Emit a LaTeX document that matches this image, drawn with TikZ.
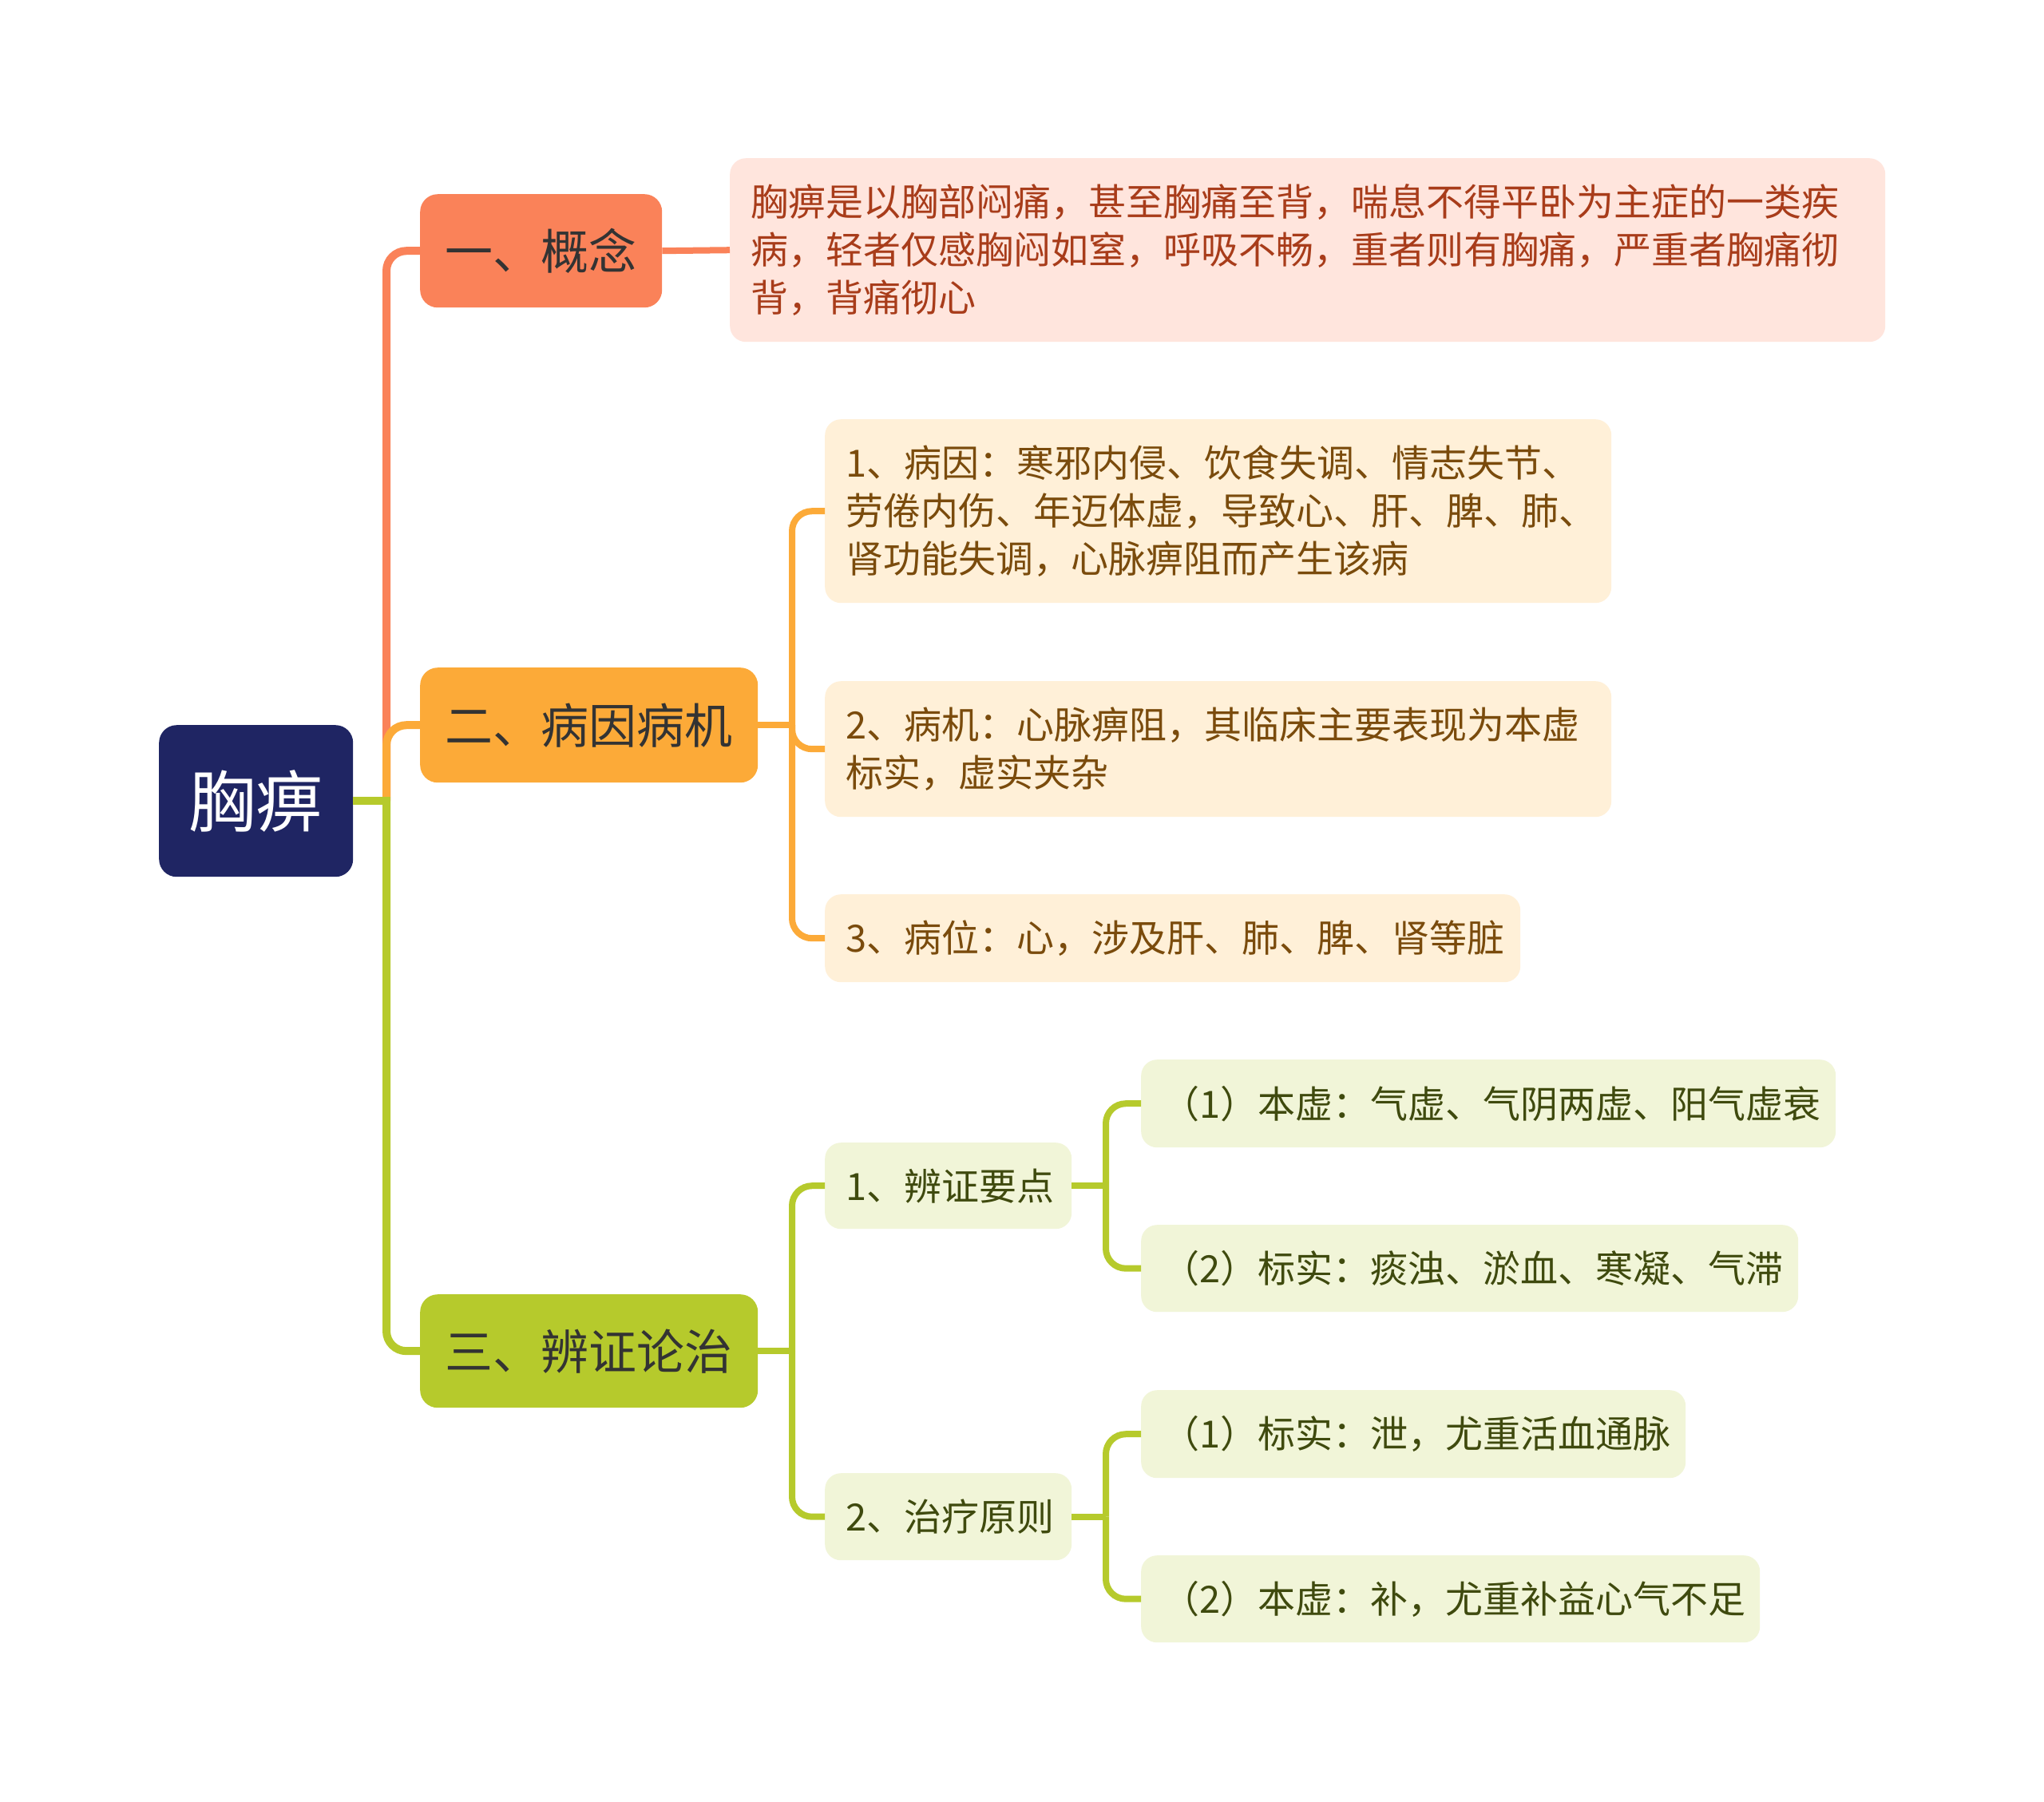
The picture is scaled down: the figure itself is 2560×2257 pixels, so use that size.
\documentclass[tikz,border=0pt]{standalone}
\usepackage{fontspec}
\newfontfamily\cjk{Noto Sans CJK SC}
\definecolor{rootc}{HTML}{1F2563}
\definecolor{coral}{HTML}{FA8259}
\definecolor{orng}{HTML}{FCAA38}
\definecolor{lime}{HTML}{B6CA2C}
\definecolor{coralL}{HTML}{FFE5DD}
\definecolor{orngL}{HTML}{FFF0D8}
\definecolor{limeL}{HTML}{F1F5D8}
\definecolor{coralT}{HTML}{A83C1A}
\definecolor{orngT}{HTML}{7A4B0C}
\definecolor{limeT}{HTML}{3F4A0E}
\definecolor{branchT}{HTML}{333333}
\tikzset{
  rootbox/.style={rounded corners=22pt, fill=rootc, text=white, anchor=north west,
    inner sep=0pt, align=center, font=\cjk\fontsize{84pt}{96pt}\selectfont},
  branchbox/.style={rounded corners=22pt, anchor=north west, inner sep=0pt,
    align=center, text=branchT, font=\cjk\fontsize{60pt}{72pt}\selectfont},
  leafbox/.style={rounded corners=20pt, anchor=north west, inner xsep=26pt,
    inner ysep=0pt, align=left, font=\cjk\fontsize{47pt}{60pt}\selectfont},
  leafC/.style={leafbox, fill=coralL, text=coralT},
  leafO/.style={leafbox, fill=orngL, text=orngT},
  leafG/.style={leafbox, fill=limeL, text=limeT},
  lnmain/.style={line width=10pt, rounded corners=25pt},
  lnsub/.style={line width=8pt, rounded corners=25pt},
}
\begin{document}
\begin{tikzpicture}[x=1pt,y=-1pt]
\useasboundingbox[fill=white] (0,0) rectangle (2560,2257);

% nodes
\node[rootbox, minimum width=243pt, minimum height=190pt] (root) at (199,908) {胸痹};

\node[branchbox, fill=coral, minimum width=303pt, minimum height=142pt] (b1) at (526,243) {一、概念};
\node[branchbox, fill=orng, minimum width=423pt, minimum height=144pt] (b2) at (526,836) {二、病因病机};
\node[branchbox, fill=lime, minimum width=423pt, minimum height=142pt] (b3) at (526,1621) {三、辨证论治};

\node[leafC, minimum width=1447pt, text width=1395pt, minimum height=230pt] (c1) at (914,198)
  {胸痹是以胸部闷痛，甚至胸痛至背，喘息不得平卧为主症的一类疾\\病，轻者仅感胸闷如窒，呼吸不畅，重者则有胸痛，严重者胸痛彻\\背，背痛彻心};

\node[leafO, minimum width=985pt, text width=933pt, minimum height=230pt] (l21) at (1033,525)
  {1、病因：寒邪内侵、饮食失调、情志失节、\\劳倦内伤、年迈体虚，导致心、肝、脾、肺、\\肾功能失调，心脉痹阻而产生该病};
\node[leafO, minimum width=985pt, text width=933pt, minimum height=170pt] (l22) at (1033,853)
  {2、病机：心脉痹阻，其临床主要表现为本虚\\标实，虚实夹杂};
\node[leafO, minimum width=871pt, text width=819pt, minimum height=110pt] (l23) at (1033,1120)
  {3、病位：心，涉及肝、肺、脾、肾等脏};

\node[leafG, minimum width=309pt, text width=257pt, minimum height=108pt] (l31) at (1033,1431)
  {1、辨证要点};
\node[leafG, minimum width=309pt, text width=257pt, minimum height=109pt] (l32) at (1033,1845)
  {2、治疗原则};

\node[leafG, minimum width=870pt, text width=818pt, minimum height=110pt] (l311) at (1429,1327)
  {（1）本虚：气虚、气阴两虚、阳气虚衰};
\node[leafG, minimum width=823pt, text width=771pt, minimum height=109pt] (l312) at (1429,1534)
  {（2）标实：痰浊、淤血、寒凝、气滞};
\node[leafG, minimum width=682pt, text width=630pt, minimum height=110pt] (l321) at (1429,1741)
  {（1）标实：泄，尤重活血通脉};
\node[leafG, minimum width=775pt, text width=723pt, minimum height=109pt] (l322) at (1429,1948)
  {（2）本虚：补，尤重补益心气不足};

% junction columns
\coordinate (j1) at (484,0);
\coordinate (j2) at (992,0);
\coordinate (j3) at (1385,0);

% root to branches
\draw[lnmain, coral] (root.east -| j1) |- (b1.west);
\draw[lnmain, orng] (root.east -| j1) |- (b2.west);
\draw[lnmain, lime] (root.east -| j1) |- (b3.west);
\draw[line width=10pt, lime] (root.east) -- ([xshift=5pt]root.east -| j1);

% branch 1
\draw[lnsub, coral] (b1.east) -- (c1.west);

% branch 2
\draw[lnsub, orng] (b2.east) -- (b2.east -| j2);
\draw[lnsub, orng] (b2.east -| j2) |- (l21.west);
\draw[lnsub, orng] (b2.east -| j2) |- (l22.west);
\draw[lnsub, orng] (b2.east -| j2) |- (l23.west);

% branch 3
\draw[lnsub, lime] (b3.east) -- (b3.east -| j2);
\draw[lnsub, lime] (b3.east -| j2) |- (l31.west);
\draw[lnsub, lime] (b3.east -| j2) |- (l32.west);

\draw[lnsub, lime] (l31.east) -- (l31.east -| j3);
\draw[lnsub, lime] (l31.east -| j3) |- (l311.west);
\draw[lnsub, lime] (l31.east -| j3) |- (l312.west);

\draw[lnsub, lime] (l32.east) -- (l32.east -| j3);
\draw[lnsub, lime] (l32.east -| j3) |- (l321.west);
\draw[lnsub, lime] (l32.east -| j3) |- (l322.west);
\end{tikzpicture}
\end{document}
